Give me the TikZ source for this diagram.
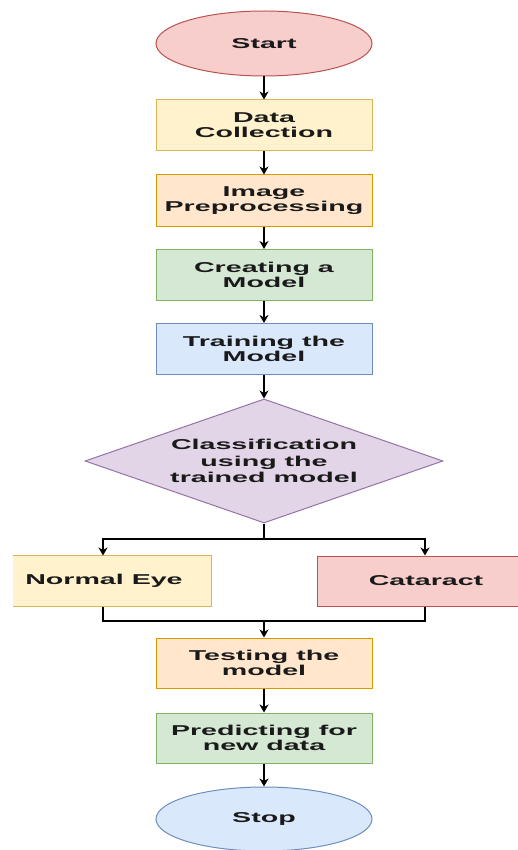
\documentclass[tikz,border=0pt]{standalone}
\usepackage{fontspec}
\newfontfamily\lab[FakeStretch=2.0]{Liberation Sans}
\usetikzlibrary{shapes.geometric,arrows.meta}
\definecolor{redF}{HTML}{F8CECC}\definecolor{redD}{HTML}{B85450}
\definecolor{yelF}{HTML}{FFF2CC}\definecolor{yelD}{HTML}{D6B656}
\definecolor{orgF}{HTML}{FFE6CC}\definecolor{orgD}{HTML}{D79B00}
\definecolor{grnF}{HTML}{D5E8D4}\definecolor{grnD}{HTML}{82B366}
\definecolor{bluF}{HTML}{DAE8FC}\definecolor{bluD}{HTML}{6C8EBF}
\definecolor{purF}{HTML}{E1D5E7}\definecolor{purD}{HTML}{9673A6}
\definecolor{txt}{HTML}{1A1A1A}
\begin{document}
\begin{tikzpicture}[x=1pt,y=-1pt,
  base/.style={font=\lab\bfseries\fontsize{14.3}{15.3}\selectfont, text=txt, align=center, inner sep=0pt, line width=1pt},
  box/.style={base, rectangle, minimum width=216pt, minimum height=51pt},
  term/.style={base, ellipse, minimum width=216pt, minimum height=65pt},
  arr/.style={line width=1.2pt, -{Stealth[length=8pt,width=9pt,inset=2.5pt]}},
  ln/.style={line width=1.2pt}]
\useasboundingbox (0,0) rectangle (518,850);

\node[term, fill=redF, draw=redD] (start) at (264,43.5) {Start};
\node[box, fill=yelF, draw=yelD] (dc) at (264,125.5) {Data\\Collection};
\node[box, fill=orgF, draw=orgD] (ip) at (264,200.5) {Image\\Preprocessing};
\node[box, fill=grnF, draw=grnD] (cm) at (264,275) {Creating a\\Model};
\node[box, fill=bluF, draw=bluD] (tm) at (264,349) {Training the\\Model};
\node[base, font=\lab\bfseries\fontsize{14.3}{16.5}\selectfont, diamond, aspect=2.887, minimum width=358pt, minimum height=124pt, fill=purF, draw=purD] (cls) at (264,461) {Classification\\using the\\trained model};

\node[base, rectangle, minimum width=198pt, minimum height=50pt, fill=yelF] (ne) at (112,581) {\hspace*{-16pt}Normal Eye};
\draw[yelD, line width=1pt] (ne.north west) -- (ne.north east) -- (ne.south east) -- (ne.south west);
\node[box, minimum height=50pt, fill=redF, draw=redD] (cat) at (425,581) {\hspace*{2pt}Cataract};

\node[box, minimum height=50pt, fill=orgF, draw=orgD] (test) at (264,663) {Testing the\\model};
\node[box, minimum height=50pt, fill=grnF, draw=grnD] (pred) at (264,738) {Predicting for\\new data};
\node[term, minimum height=64pt, fill=bluF, draw=bluD] (stop) at (264,819) {Stop};

\coordinate (jl) at (103,539);
\coordinate (jr) at (425,539);
\coordinate (bl) at (103,621);
\coordinate (br) at (425,621);

\draw[arr] (start) -- (dc);
\draw[arr] (dc) -- (ip);
\draw[arr] (ip) -- (cm);
\draw[arr] (cm) -- (tm);
\draw[arr] (tm) -- (cls);
\draw[ln] (cls.south) -- (cls.south |- jl);
\draw[arr] (cls.south |- jl) -- (jl) -- (jl |- ne.north);
\draw[arr] (cls.south |- jr) -- (jr) -- (cat.north);
\draw[ln] (bl |- ne.south) -- (bl) -- (br) -- (cat.south);
\draw[arr] (test.north |- bl) -- (test.north);
\draw[arr] (test) -- (pred);
\draw[arr] (pred) -- (stop);
\end{tikzpicture}
\end{document}
